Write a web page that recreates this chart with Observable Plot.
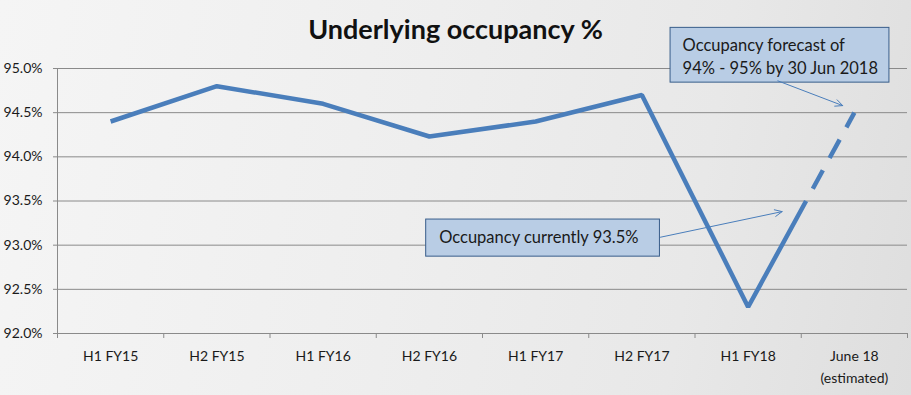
<!DOCTYPE html>
<html>
<head>
<meta charset="utf-8">
<script src="https://cdn.jsdelivr.net/npm/d3@7"></script>
<script src="https://cdn.jsdelivr.net/npm/@observablehq/plot@0.6"></script>
<style>
  html, body { margin: 0; padding: 0; }
  body { width: 911px; height: 395px; overflow: hidden;
    background: linear-gradient(100deg, #f5f5f5 0%, #eeeeee 45%, #e8e8e8 75%, #dedede 100%); }
  #wrap { position: relative; width: 911px; height: 395px; }
  #title { position: absolute; left: 0; width: 911px; top: 12px; text-align: center;
    font-family: Lato, "Open Sans", sans-serif; font-weight: bold; font-size: 27px; color: #111; }
  #chart { position: absolute; left: 0; top: 0; }
</style>
</head>
<body>
<div id="wrap">
  <div id="chart"></div>
  <div id="title">Underlying occupancy %</div>
</div>
<script>
// ---- data ----
const categories = ["H1 FY15", "H2 FY15", "H1 FY16", "H2 FY16", "H1 FY17", "H2 FY17", "H1 FY18", "June 18\n(estimated)"];
const actual = [94.4, 94.8, 94.6, 94.23, 94.4, 94.7, 92.3];
const currentValue = 93.5;
const forecastValue = 94.5;
const yTicks = [92.0, 92.5, 93.0, 93.5, 94.0, 94.5, 95.0];
const forecastNote = "Occupancy forecast of\n94% - 95% by 30 Jun 2018";
const currentNote = "Occupancy currently 93.5%";

// ---- derived tables ----
const n = categories.length;
const lastIdx = actual.length - 1;
const fcIdx = n - 1;
const currentIdx = lastIdx + (currentValue - actual[lastIdx]) / (forecastValue - actual[lastIdx]) * (fcIdx - lastIdx);
const solid = actual.map((v, i) => ({x: i, y: v})).concat([{x: currentIdx, y: currentValue}]);
const dashed = [{x: currentIdx, y: currentValue}, {x: fcIdx, y: forecastValue}];
const boundaries = d3.range(n + 1).map(i => i - 0.5);

// annotation placement (data space)
const box1 = {x1: 5.27, x2: 7.33, y1: 94.84, y2: 95.46};
const box2 = {x1: 2.97, x2: 5.17, y1: 92.87, y2: 93.29};
const arrows = [
  {x1: 6.28, y1: 94.86, x2: 6.89, y2: 94.58},
  {x1: 5.175, y1: 93.09, x2: 6.32, y2: 93.38}
];

const blue = "#4a7ebb";
const font = "Lato, 'Open Sans', sans-serif";

const chart = Plot.plot({
  width: 911,
  height: 395,
  marginLeft: 57,
  marginRight: 4,
  marginTop: 68,
  marginBottom: 62,
  style: {background: "transparent", fontFamily: font, fontSize: "14px", color: "#1a1a1a", overflow: "visible"},
  x: {type: "linear", domain: [-0.5, n - 0.5]},
  y: {domain: [92, 95]},
  marks: [
    Plot.ruleY(yTicks, {stroke: "#8a8a8a", strokeWidth: 1}),
    Plot.ruleX([-0.5], {stroke: "#8a8a8a", strokeWidth: 1}),
    Plot.axisY({ticks: yTicks, tickSize: 4, tickPadding: 11, stroke: "#8a8a8a",
      tickFormat: d => d.toFixed(1) + "%", fontSize: 14, fill: "#1a1a1a", label: null}),
    Plot.axisX({ticks: boundaries, tickSize: 5, stroke: "#8a8a8a", tickFormat: () => "", label: null}),
    Plot.axisX({ticks: d3.range(n), tickSize: 0, tickPadding: 12, tickFormat: i => categories[i],
      fontSize: 14, fill: "#1a1a1a", lineHeight: 1.55, label: null}),
    Plot.line(solid, {x: "x", y: "y", stroke: blue, strokeWidth: 4.5, strokeLinejoin: "miter", strokeLinecap: "butt"}),
    Plot.line(dashed, {x: "x", y: "y", stroke: blue, strokeWidth: 4.5, strokeLinecap: "butt",
      strokeDasharray: "21,14", strokeDashoffset: 21}),
    Plot.rect([box1, box2], {x1: "x1", x2: "x2", y1: "y1", y2: "y2", fill: "#b9cde5", stroke: "#385d8a", strokeWidth: 1}),
    Plot.text([forecastNote], {x: box1.x1, y: (box1.y1 + box1.y2) / 2, dx: 12, text: d => d, textAnchor: "start",
      fontSize: 16.5, fill: "#1a1a1a", lineHeight: 1.35}),
    Plot.text([currentNote], {x: box2.x1, y: (box2.y1 + box2.y2) / 2, dx: 13, text: d => d, textAnchor: "start",
      fontSize: 16.5, fill: "#1a1a1a"}),
    Plot.arrow(arrows, {x1: "x1", y1: "y1", x2: "x2", y2: "y2", stroke: blue, strokeWidth: 1, headLength: 12, headAngle: 50})
  ]
});
document.getElementById("chart").appendChild(chart);
</script>
</body>
</html>
